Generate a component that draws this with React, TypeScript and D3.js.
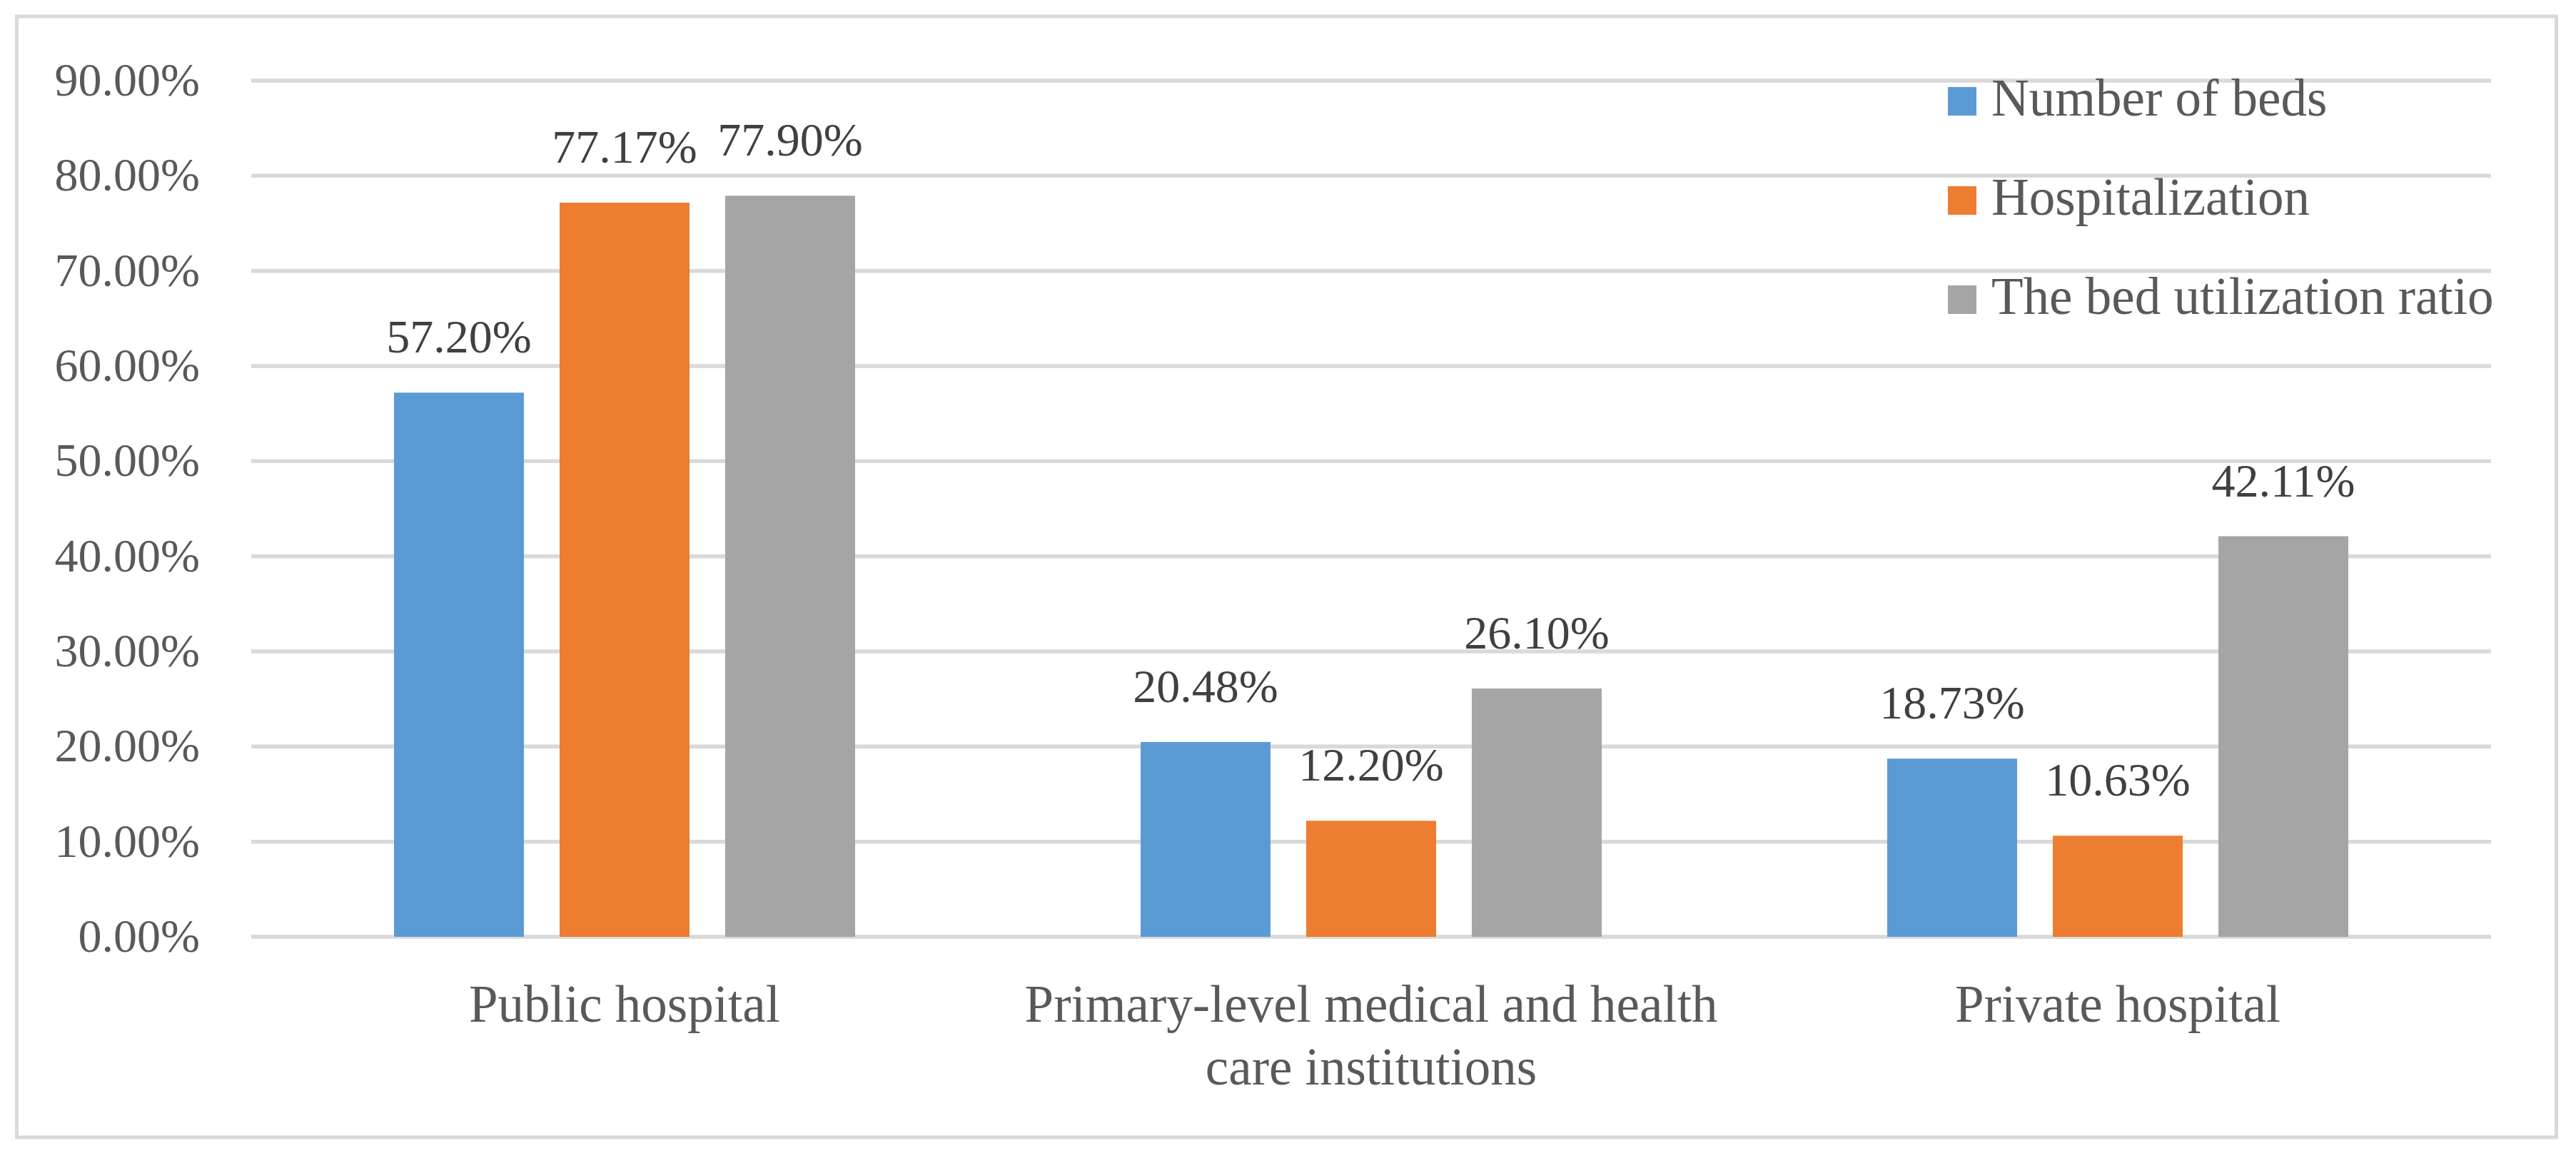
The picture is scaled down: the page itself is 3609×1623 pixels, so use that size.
import React from "react";
import * as d3 from "d3";

const categories = ["Public hospital", "Primary-level medical and health care institutions", "Private hospital"];
const categoryLines = [["Public hospital"], ["Primary-level medical and health", "care institutions"], ["Private hospital"]];
const seriesNames = ["Number of beds", "Hospitalization", "The bed utilization ratio"];
const seriesColors = ["#5B9BD5", "#ED7D31", "#A5A5A5"];
const numberOfBeds = [57.2, 20.48, 18.73];
const hospitalization = [77.17, 12.2, 10.63];
const bedUtilization = [77.9, 26.1, 42.11];
const yTicks = [0, 10, 20, 30, 40, 50, 60, 70, 80, 90];

const seriesValues = [numberOfBeds, hospitalization, bedUtilization];

const W = 3609;
const H = 1623;
const plotLeft = 352;
const plotRight = 3490;
const plotTop = 113;
const plotBottom = 1313;

const NUM_FONT = "'Liberation Serif', 'Times New Roman', serif";

export default function App() {
  const x0 = d3.scaleBand<string>().domain(categories).range([plotLeft, plotRight]).paddingInner(0).paddingOuter(0);
  const bw = x0.bandwidth();
  const groupPad = bw * (200 / 1046);
  const x1 = d3.scaleBand<string>().domain(seriesNames).range([groupPad, bw - groupPad]).paddingInner(50 / 232).paddingOuter(0);
  const y = d3.scaleLinear().domain([0, 90]).range([plotBottom, plotTop]);
  const fmt = (v: number) => v.toFixed(2) + "%";

  return (
    <svg width={W} height={H} style={{ position: "absolute", left: 0, top: 0, display: "block" }} xmlns="http://www.w3.org/2000/svg">
      <rect x={0} y={0} width={W} height={H} fill="#ffffff" />
      <rect x={23.5} y={23} width={3558} height={1571} fill="#ffffff" stroke="#D9D9D9" strokeWidth={5} />
      {/* gridlines */}
      {yTicks.map((t) => (
        <line key={"g" + t} x1={plotLeft} x2={plotRight} y1={y(t)} y2={y(t)} stroke="#D9D9D9" strokeWidth={5.5} />
      ))}
      {/* y tick labels */}
      {yTicks.map((t) => (
        <text key={"t" + t} x={280} y={y(t) + 21} textAnchor="end" fontFamily={NUM_FONT} fontSize={66} fill="#595959">
          {fmt(t)}
        </text>
      ))}
      {/* bars */}
      {categories.map((c, ci) => (
        <g key={c} transform={`translate(${x0(c)},0)`}>
          {seriesNames.map((s, si) => {
            const v = seriesValues[si][ci];
            const bx = x1(s) as number;
            return (
              <g key={s}>
                <rect x={bx} y={y(v)} width={x1.bandwidth()} height={y(0) - y(v)} fill={seriesColors[si]} />
                <text x={bx + x1.bandwidth() / 2} y={y(v) - 56} textAnchor="middle" fontFamily={NUM_FONT} fontSize={66} fill="#404040">
                  {fmt(v)}
                </text>
              </g>
            );
          })}
        </g>
      ))}
      {/* category labels */}
      {categories.map((c, ci) => (
        <text key={"c" + c} x={(x0(c) as number) + bw / 2} y={plotBottom + 119} textAnchor="middle" fontFamily={NUM_FONT} fontSize={73} fill="#595959">
          {categoryLines[ci].map((ln, li) => (
            <tspan key={li} x={(x0(c) as number) + bw / 2} dy={li === 0 ? 0 : 88}>
              {ln}
            </tspan>
          ))}
        </text>
      ))}
      {/* legend */}
      {seriesNames.map((s, si) => (
        <g key={"l" + s}>
          <rect x={2729} y={122 + si * 139} width={40} height={40} fill={seriesColors[si]} />
          <text x={2790} y={162 + si * 139} fontFamily={NUM_FONT} fontSize={73} fill="#595959">
            {s}
          </text>
        </g>
      ))}
    </svg>
  );
}
